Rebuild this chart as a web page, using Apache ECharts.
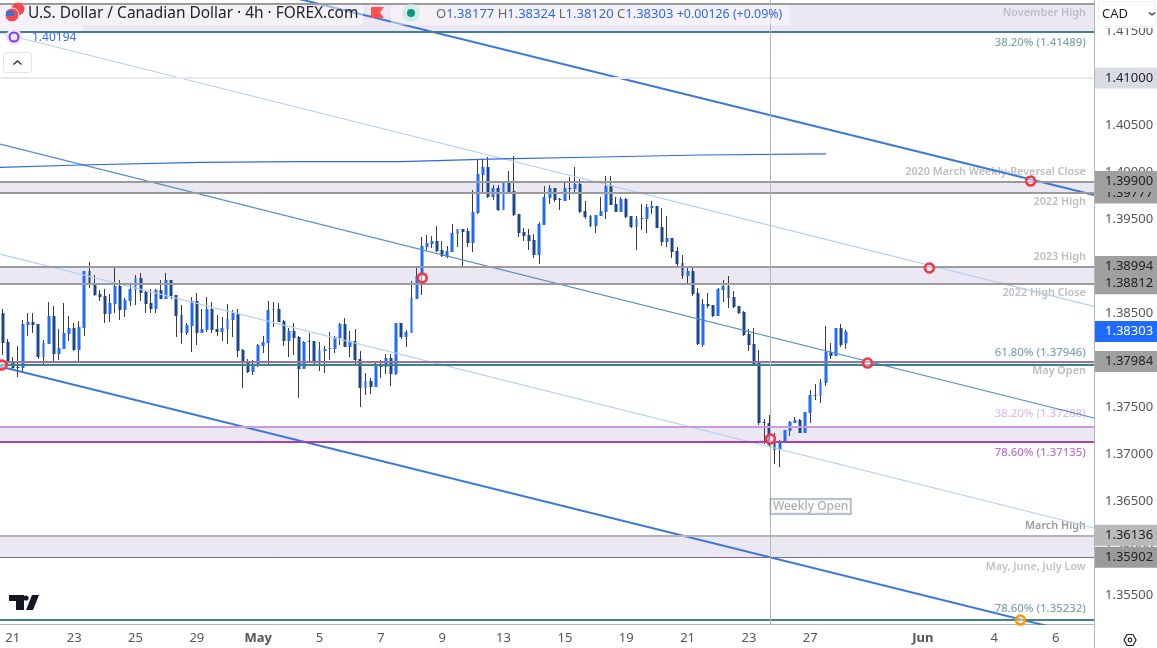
<!DOCTYPE html>
<html><head><meta charset="utf-8"><style>html,body{margin:0;padding:0;background:#fff}#c{width:1157px;height:648px}</style>
<script src="https://cdn.jsdelivr.net/npm/echarts@6/dist/echarts.min.js"></script></head>
<body><div id="c"></div>
<script>
const opens=[1.385,1.38192,1.37979,1.37926,1.37915,1.38373,1.38405,1.38383,1.38032,1.38171,
1.38468,1.38064,1.38117,1.38277,1.38341,1.38107,1.38341,1.38947,1.38809,1.38702,
1.38681,1.3849,1.38596,1.38788,1.38532,1.38628,1.38745,1.38873,1.38724,1.38607,
1.38543,1.38745,1.38649,1.38851,1.38692,1.38479,1.38288,1.38362,1.38628,1.38288,
1.38319,1.38543,1.3833,1.38298,1.3833,1.38426,1.385,1.38107,1.37979,1.37873,
1.37936,1.38149,1.38181,1.38532,1.38543,1.38415,1.38202,1.38309,1.38245,1.37905,
1.38192,1.38202,1.37968,1.38096,1.38117,1.38117,1.38234,1.38383,1.38139,1.38202,
1.38011,1.37702,1.37777,1.37713,1.37936,1.37926,1.38022,1.37851,1.38394,1.38245,
1.38288,1.38649,1.38894,1.39202,1.39234,1.39266,1.3917,1.39096,1.39149,1.39341,
1.39394,1.39373,1.39245,1.39564,1.39968,1.40053,1.39734,1.3983,1.39596,1.39894,
1.39798,1.39553,1.39362,1.3933,1.39277,1.39117,1.39436,1.39724,1.3983,1.39713,
1.39692,1.3983,1.39819,1.39873,1.39585,1.39532,1.39426,1.39532,1.39575,1.39862,
1.3966,1.39575,1.39713,1.39532,1.39415,1.395,1.395,1.39617,1.39639,1.39415,
1.39255,1.39298,1.3916,1.39032,1.38894,1.38947,1.38713,1.3816,1.38596,1.38585,
1.38468,1.38745,1.38788,1.3867,1.38575,1.38511,1.38277,1.38171,1.37968,1.37341,
1.3733,1.37139,1.37043,1.37128,1.37245,1.3733,1.37362,1.37224,1.37436,1.37617,
1.37617,1.37756,1.38086,1.38043,1.38341,1.38177];
const highs=[1.38543,1.38224,1.38032,1.38149,1.38426,1.385,1.385,1.38383,1.38213,1.38617,
1.38575,1.3833,1.38607,1.38468,1.38394,1.38415,1.38947,1.39043,1.38905,1.38745,
1.38756,1.38702,1.38979,1.38851,1.3866,1.38809,1.38905,1.38926,1.38745,1.38756,
1.38756,1.38851,1.38926,1.38851,1.38692,1.38585,1.38394,1.3867,1.38713,1.38543,
1.3867,1.38617,1.38479,1.38458,1.38596,1.38532,1.38543,1.38117,1.38011,1.38,
1.38171,1.38256,1.38628,1.38617,1.38607,1.38426,1.38341,1.38394,1.38256,1.38202,
1.38288,1.38202,1.38192,1.38149,1.38298,1.38256,1.38394,1.38447,1.38309,1.3833,
1.38096,1.37862,1.37809,1.3799,1.38,1.38064,1.38064,1.38394,1.38394,1.38319,
1.38841,1.38979,1.39309,1.3933,1.39319,1.39426,1.39266,1.39213,1.39447,1.39394,
1.39394,1.39404,1.39809,1.40128,1.40128,1.4016,1.39862,1.39862,1.39894,1.40011,
1.4017,1.39553,1.39404,1.39394,1.39341,1.39468,1.39851,1.39862,1.3983,1.39724,
1.39894,1.39947,1.40053,1.39926,1.39692,1.39543,1.39543,1.39734,1.39958,1.39958,
1.39734,1.39734,1.39724,1.39532,1.39532,1.3966,1.3966,1.39692,1.39639,1.39617,
1.39532,1.39298,1.39202,1.39117,1.38979,1.38979,1.38766,1.38649,1.38713,1.38585,
1.38766,1.38851,1.38894,1.38734,1.38575,1.38522,1.3833,1.38341,1.38107,1.37373,
1.37415,1.37224,1.37149,1.37256,1.37351,1.37394,1.37373,1.37447,1.37681,1.37745,
1.37798,1.38362,1.38181,1.38341,1.38383,1.38324];
const lows=[1.38054,1.37958,1.37905,1.37819,1.37862,1.38256,1.38288,1.38011,1.37958,1.38171,
1.37968,1.38,1.38117,1.38202,1.38096,1.37979,1.38256,1.38766,1.38681,1.38628,
1.38394,1.38405,1.385,1.38426,1.38458,1.38575,1.38585,1.38628,1.385,1.385,
1.385,1.38649,1.38649,1.38649,1.38245,1.38171,1.38266,1.38086,1.3816,1.38288,
1.38298,1.38288,1.38256,1.38202,1.38171,1.38245,1.38032,1.37702,1.37862,1.37841,
1.37926,1.38075,1.37958,1.38351,1.38405,1.38149,1.38032,1.38054,1.37596,1.37905,
1.37979,1.37958,1.37883,1.37862,1.38,1.38075,1.3816,1.38139,1.38032,1.37958,
1.375,1.37628,1.37639,1.37713,1.37809,1.37851,1.37724,1.37841,1.38224,1.38139,
1.38288,1.38649,1.38692,1.3917,1.39192,1.39149,1.39096,1.39085,1.39149,1.39202,
1.39,1.39202,1.39149,1.39553,1.39787,1.39724,1.39702,1.39585,1.39596,1.39777,
1.39532,1.39309,1.39266,1.3917,1.39085,1.39021,1.39436,1.3966,1.39681,1.39596,
1.39692,1.39702,1.39766,1.39564,1.395,1.39415,1.39351,1.39532,1.395,1.39649,
1.39575,1.39575,1.39511,1.39404,1.3917,1.39383,1.39351,1.39553,1.39404,1.39213,
1.39202,1.39085,1.39,1.38862,1.38798,1.38681,1.3816,1.38139,1.38553,1.38458,
1.38468,1.38617,1.38553,1.38553,1.3849,1.38256,1.38096,1.37958,1.37309,1.37107,
1.37075,1.36894,1.36862,1.37128,1.37192,1.3733,1.37224,1.37224,1.3733,1.37575,
1.37543,1.37724,1.38011,1.38043,1.38139,1.3812];
const closes=[1.38181,1.37968,1.37915,1.37915,1.38383,1.38405,1.38373,1.38032,1.38181,1.38468,
1.38064,1.38128,1.38288,1.38341,1.38107,1.38351,1.38947,1.38819,1.38692,1.3867,
1.3849,1.38607,1.38788,1.38532,1.38639,1.38756,1.38873,1.38713,1.38596,1.38543,
1.38745,1.38649,1.38851,1.38681,1.38468,1.38288,1.38373,1.38628,1.38288,1.3833,
1.38543,1.38319,1.38298,1.38341,1.38437,1.385,1.38096,1.37968,1.37873,1.37947,
1.3816,1.38192,1.38532,1.38543,1.38405,1.38202,1.38309,1.38234,1.37905,1.38192,
1.38202,1.37968,1.38107,1.38117,1.38128,1.38245,1.38383,1.38139,1.38202,1.38,
1.37702,1.37777,1.37713,1.37936,1.37926,1.38022,1.37851,1.38394,1.38245,1.38298,
1.3866,1.38894,1.39213,1.39245,1.39266,1.3916,1.39106,1.3916,1.39351,1.39394,
1.39362,1.39245,1.39575,1.39979,1.40053,1.39734,1.3983,1.39596,1.39894,1.39787,
1.39543,1.39351,1.39319,1.39266,1.39117,1.39447,1.39734,1.3983,1.39702,1.39702,
1.3983,1.39819,1.39873,1.39575,1.39522,1.39426,1.39543,1.39585,1.39851,1.39649,
1.39575,1.39713,1.39522,1.39415,1.395,1.39511,1.39628,1.39639,1.39404,1.39255,
1.39298,1.39149,1.39021,1.38894,1.38947,1.38702,1.38171,1.38596,1.38575,1.38468,
1.38756,1.38788,1.3866,1.38564,1.385,1.38266,1.3816,1.37958,1.3733,1.3733,
1.37096,1.37043,1.37139,1.37256,1.37341,1.37362,1.37224,1.37447,1.37628,1.37628,
1.37766,1.38086,1.38043,1.38341,1.3816,1.38303];

const tickSlots=[2,14,26,38,50,62,74,86,98,110,122,134,146,158,180,194,206];
const tickLabels=['21','23','25','29','May','5','7','9','13','15','19','21','23','27','Jun','4','6'];
const boldTicks=['May','Jun'];
const slotCount=214;
const priceTicks=[1.415,1.41,1.405,1.4,1.395,1.39,1.385,1.38,1.375,1.37,1.365,1.36,1.355];

const zoneRanges=[[1.41791,1.41489],[1.399,1.39777],[1.38994,1.38812],[1.37984,1.37946],[1.37288,1.37135],[1.36136,1.35902]];
const levelValues=[1.41791,1.41489,1.41,1.399,1.39777,1.38994,1.38812,1.37984,1.37946,1.37288,1.37135,1.36136,1.35902,1.35232];
const tagValues=[1.41,1.39777,1.399,1.38994,1.38812,1.38303,1.37984,1.36136,1.35902];
const noteTexts=['November High','38.20% (1.41489)','2020 March Weekly-Reversal Close','2022 High','2023 High','2022 High Close','61.80% (1.37946)','May Open','38.20% (1.37288)','78.60% (1.37135)','March High','May, June, July Low','78.60% (1.35232)'];
const notePrices=[1.41692,1.41373,1.4,1.39681,1.39096,1.38713,1.38075,1.37883,1.37426,1.37011,1.36234,1.35798,1.35351];
const thickChannel=[[[-0.5,1.42625],[213.5,1.39756]],[[-0.5,1.37931],[213.5,1.35048]]];
const midChannel=[[-0.5,1.40298],[213.5,1.37383]];
const lightChannel=[[[-0.5,1.41479],[213.5,1.3857]],[[-0.5,1.39127],[213.5,1.36213]]];
const maLine=[[-0.5,1.4005],[15.2,1.40075],[38.6,1.40103],[58.2,1.4011],[77.8,1.4011],[97.3,1.40139],[116.9,1.4016],[136.5,1.40181],[161.1,1.40194]];
const redRings=[[-0.1,1.37947],[82.1,1.38873],[150.2,1.3716],[169.2,1.37968],[181.3,1.38979],[201.1,1.39904]];
const orangeRing=[[199.1,1.35234]];
const weeklyOpenSlot=150.2, weeklyOpenLabelPrice=1.36442;

const UP='#1f6bff',DOWN='#1a4690',WICK='#3a3a3a',TEAL='#43808c',GREY='#9b9b9b';
const FONT='"Noto Sans", sans-serif';
const levelStyle=[[GREY,2],[TEAL,2],['#e9e9ef',2],[GREY,2],[GREY,2],[GREY,2],[GREY,2],['#8f7b96',2],[TEAL,2],['#cc98de',2],['#a63fb8',2],['#b4b4b4',2],['#7b6a8c',1],[TEAL,2]];
const tagStyle=[['#d9dce4','#222'],['#a0a0a0','#222'],['#a0a0a0','#222'],['#a0a0a0','#222'],['#a0a0a0','#222'],[UP,'#fff'],['#a0a0a0','#222'],['#b9b9b9','#222'],['#9b9b9b','#222']];
const noteColors=['#b3b3b3','#5c8f99','#adadad','#adadad','#adadad','#adadad','#5c8f99','#adadad','#d9a9e8','#a94fbb','#808080','#b3b3b3','#5c8f99'];

const chart=echarts.init(document.getElementById('c'),null,{renderer:'canvas'});
const categories=Array.from({length:slotCount},(_,i)=>String(i));
const tickMap={};tickSlots.forEach((s,i)=>tickMap[s]=tickLabels[i]);
const full=opens.map((o,i)=>[o,closes[i],lows[i],highs[i]]);
const body=opens.map((o,i)=>[o,closes[i],Math.min(o,closes[i]),Math.max(o,closes[i])]);
const thin=(data,color,width,z)=>({type:'line',xAxisIndex:1,yAxisIndex:0,data,symbol:'none',silent:true,z,lineStyle:{color,width},animation:false});
const isPercent=t=>t.includes('%');

const option={
 animation:false,
 textStyle:{fontFamily:FONT},
 grid:{left:0,top:0,width:1094,height:624,containLabel:false},
 xAxis:[
  {type:'category',data:categories,boundaryGap:true,
   axisLine:{lineStyle:{color:'#b2b5be',width:1}},axisTick:{show:false},splitLine:{show:false},
   axisLabel:{interval:i=>tickMap[i]!==undefined,margin:8,fontSize:13,fontFamily:FONT,color:'#555',
    formatter:(v,i)=>{const t=tickMap[i];if(t===undefined)return '';return boldTicks.includes(t)?'{b|'+t+'}':t;},
    rich:{b:{fontWeight:'bold',fontSize:13,fontFamily:FONT,color:'#555'}}}},
  {type:'value',min:-0.5,max:213.5,show:false,splitLine:{show:false}}
 ],
 yAxis:[{type:'value',position:'right',min:1.35192,max:1.4183,scale:true,
   axisLine:{show:true,onZero:false,lineStyle:{color:'#b2b5be',width:1}},axisTick:{show:false},splitLine:{show:false},
   axisLabel:{customValues:priceTicks,margin:11,fontSize:13,fontFamily:FONT,color:'#555',formatter:v=>v.toFixed(5)}}],
 series:[
  {type:'line',name:'levels',xAxisIndex:1,yAxisIndex:0,data:[],symbol:'none',z:1,silent:true,
   markArea:{silent:true,itemStyle:{color:'#ebe8f3'},label:{show:false},data:zoneRanges.map(r=>[{yAxis:r[0]},{yAxis:r[1]}])},
   markLine:{silent:true,precision:5,symbol:'none',animation:false,label:{show:false},
    data:levelValues.map((v,i)=>({yAxis:v,lineStyle:{color:levelStyle[i][0],width:levelStyle[i][1],type:'solid'}}))}},
  {type:'candlestick',name:'wicks',xAxisIndex:0,yAxisIndex:0,data:full,barWidth:1,z:3,silent:true,
   itemStyle:{color:WICK,color0:WICK,borderColor:WICK,borderColor0:WICK,borderWidth:1}},
  {type:'candlestick',name:'USDCAD',xAxisIndex:0,yAxisIndex:0,data:body,barWidth:3.4,z:3,silent:true,
   itemStyle:{color:UP,color0:DOWN,borderColor:UP,borderColor0:DOWN,borderWidth:0}},
  thin(lightChannel[0],'#b4cff7',1.2,4),thin(lightChannel[1],'#b4cff7',1.2,4),
  thin(midChannel,'#4d8ccb',1.2,4),
  thin(thickChannel[0],'#3c78d8',2,4),thin(thickChannel[1],'#3c78d8',2,4),
  thin(maLine,'#2f66e8',1.2,4),
  {type:'line',name:'weekly',xAxisIndex:1,yAxisIndex:0,data:[],symbol:'none',z:2,silent:true,
   markLine:{silent:true,precision:5,symbol:'none',animation:false,label:{show:false},
    data:[{xAxis:weeklyOpenSlot,lineStyle:{color:'#b5b5b5',width:1,type:'solid'}}]}},
  {type:'scatter',name:'rings',xAxisIndex:1,yAxisIndex:0,data:redRings,symbol:'circle',symbolSize:9,z:5,silent:true,
   itemStyle:{color:'rgba(255,255,255,0.45)',borderColor:'#f23645',borderWidth:2.6,opacity:1}},
  {type:'scatter',name:'ring2',xAxisIndex:1,yAxisIndex:0,data:orangeRing,symbol:'circle',symbolSize:9,z:5,silent:true,
   itemStyle:{color:'rgba(255,255,255,0.45)',borderColor:'#ff9800',borderWidth:2.6,opacity:1}},
  {type:'scatter',name:'notes',xAxisIndex:1,yAxisIndex:0,symbolSize:1,itemStyle:{color:'rgba(0,0,0,0)'},z:3,silent:true,
   data:noteTexts.map((t,i)=>({name:t,value:[212,notePrices[i]],label:{show:true,position:'left',distance:0,formatter:'{b}',color:noteColors[i],fontSize:isPercent(t)?11.4:10.8,fontFamily:FONT,fontWeight:isPercent(t)?500:600}}))},
  {type:'scatter',name:'weeklyOpen',xAxisIndex:1,yAxisIndex:0,symbolSize:1,itemStyle:{color:'rgba(0,0,0,0)'},z:6,silent:true,
   data:[{name:'Weekly Open',value:[weeklyOpenSlot,weeklyOpenLabelPrice],label:{show:true,position:'right',distance:0,formatter:'{b}',color:'#9a9a9a',fontSize:12,fontFamily:FONT,fontWeight:500,backgroundColor:'#fff',borderColor:'#7f8e9c',borderWidth:1.2,padding:[1,2,1,2]}}]},
  {type:'line',name:'tags',xAxisIndex:1,yAxisIndex:0,data:[],symbol:'none',z:8,silent:true,
   markLine:{silent:true,precision:5,symbol:'none',animation:false,lineStyle:{color:'rgba(0,0,0,0)',width:0},
    data:tagValues.map((v,i)=>({yAxis:v,label:{show:true,position:'end',distance:1,formatter:v.toFixed(5),color:tagStyle[i][1],backgroundColor:tagStyle[i][0],fontSize:13,fontFamily:FONT,padding:[4,5,4,10],align:'left'}}))}}
 ],
 graphic:[
  {type:'rect',shape:{x:0,y:5,width:363,height:20},style:{fill:'rgba(255,255,255,0.45)'},z:20},
  {type:'rect',shape:{x:0,y:25,width:83,height:6},style:{fill:'rgba(255,255,255,0.45)'},z:20},
  {type:'rect',shape:{x:391,y:5,width:399,height:20},style:{fill:'rgba(255,255,255,0.45)'},z:20},
  {type:'circle',shape:{cx:18,cy:9,r:6.5},style:{fill:'#f4474f'},z:21},
  {type:'circle',shape:{cx:12,cy:15,r:7},style:{fill:'#f4474f',stroke:'#fff',lineWidth:1},z:21},
  {type:'rect',shape:{x:6,y:11,width:8,height:5},style:{fill:'#3a6fd8'},z:22},
  {type:'text',x:28,y:14,style:{text:'U.S. Dollar / Canadian Dollar · 4h · FOREX.com',font:'15.45px '+FONT,fill:'#222',textVerticalAlign:'middle'},z:22},
  {type:'polygon',shape:{points:[[371,7],[384,7],[380,12.5],[384,18],[371,18]]},style:{fill:'#ff5252'},z:22},
  {type:'circle',shape:{cx:411,cy:13,r:9},style:{fill:'#d5ebe7'},z:22},
  {type:'circle',shape:{cx:411,cy:13,r:4},style:{fill:'#089981'},z:23},
  {type:'text',x:436,y:14,z:22,style:{text:'{g|O}{b|1.38177} {g|H}{b|1.38324} {g|L}{b|1.38120} {g|C}{b|1.38303} {c|+0.00126 (+0.09%)}',textVerticalAlign:'middle',font:'13px '+FONT,
    rich:{g:{fill:'#666',font:'13px '+FONT},b:{fill:'#2f66e8',font:'13px '+FONT},c:{fill:'#2f66e8',font:'12.4px '+FONT}}}},
  {type:'circle',shape:{cx:14,cy:37,r:8},style:{fill:'#ece6fd'},z:22},
  {type:'circle',shape:{cx:14,cy:37,r:4.5},style:{fill:'none',stroke:'#7c3aed',lineWidth:2},z:23},
  {type:'text',x:32,y:38,style:{text:'1.40194',font:'12px '+FONT,fill:'#3a6cf6',textVerticalAlign:'middle'},z:22},
  {type:'rect',shape:{x:3.5,y:52.5,width:28,height:20,r:3},style:{fill:'#fff',stroke:'#e0e3eb',lineWidth:1},z:22},
  {type:'polyline',shape:{points:[[13.5,64.5],[17.5,61],[21.5,64.5]]},style:{fill:'none',stroke:'#333',lineWidth:1.4},z:23},
  {type:'polygon',shape:{points:[[9,595],[24,595],[24,610],[16,610],[16,601],[9,601]]},style:{fill:'#131722'},z:22},
  {type:'circle',shape:{cx:26,cy:598,r:2.6},style:{fill:'#131722'},z:22},
  {type:'polygon',shape:{points:[[32,595],[39,595],[33,610],[26,610]]},style:{fill:'#131722'},z:22},
  {type:'rect',shape:{x:1095,y:0,width:62,height:28},style:{fill:'#fff'},z:30},
  {type:'rect',shape:{x:1098.5,y:1.5,width:57,height:25,r:4},style:{fill:'#fff',stroke:'#eceef3',lineWidth:1},z:31},
  {type:'text',x:1102,y:14,style:{text:'CAD',font:'13px '+FONT,fill:'#222',textVerticalAlign:'middle'},z:32},
  {type:'polyline',shape:{points:[[1149,12.5],[1152,15],[1155,12.5]]},style:{fill:'none',stroke:'#333',lineWidth:1.3},z:32},
  {type:'line',shape:{x1:1094.5,y1:0,x2:1094.5,y2:648},style:{stroke:'#b2b5be',lineWidth:1},z:29},
  {type:'polygon',shape:{points:[[1124,640],[1127,634.5],[1133,634.5],[1136,640],[1133,645.5],[1127,645.5]]},style:{fill:'none',stroke:'#222',lineWidth:1.2},z:22},
  {type:'circle',shape:{cx:1130,cy:640,r:1.8},style:{fill:'none',stroke:'#222',lineWidth:1.2},z:22}
 ]
};
chart.setOption(option);
</script></body></html>
